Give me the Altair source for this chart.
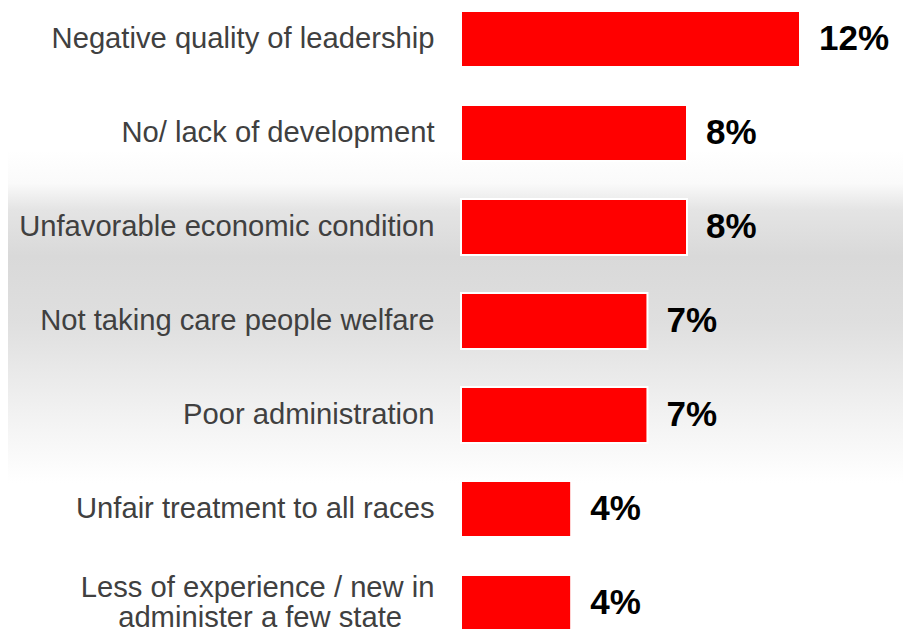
import altair as alt
import pandas as pd

categories = [
    "Negative quality of leadership",
    "No/ lack of development",
    "Unfavorable economic condition",
    "Not taking care people welfare",
    "Poor administration",
    "Unfair treatment to all races",
    "Less of experience / new in\nadminister a few state",
]
values = [12.0, 8.0, 8.0, 6.6, 6.6, 3.9, 3.9]
value_labels = ["12%", "8%", "8%", "7%", "7%", "4%", "4%"]

df = pd.DataFrame({"category": categories, "value": values, "label": value_labels})

FONT = "Liberation Sans"
PAD = "\u00a0" * 4 + "\u200b"

label_expr = (
    "indexof(datum.label, '\\n') >= 0 ? "
    "[split(datum.label, '\\n')[0], split(datum.label, '\\n')[1] + '" + PAD + "'] "
    ": datum.label"
)

y_enc = alt.Y(
    "category:N",
    sort=categories,
    scale=alt.Scale(paddingInner=0.404, paddingOuter=0.032),
    axis=alt.Axis(
        title=None,
        domain=False,
        ticks=False,
        tickSize=0,
        labelPadding=27,
        labelFontSize=29.2,
        labelFont=FONT,
        labelColor="#404040",
        labelLineHeight=30,
        labelLimit=0,
        labelExpr=label_expr,
        labelOffset={
            "condition": {"test": "indexof(datum.value, '\\n') >= 0", "value": -15},
            "value": 0,
        },
        zindex=1,
    ),
)
x_enc = alt.X("value:Q", scale=alt.Scale(domain=[0, 15.646], nice=False), axis=None)

background = alt.Chart(pd.DataFrame({"a": [0]})).mark_rect(
    color=alt.Gradient(
        gradient="linear",
        x1=0, x2=0, y1=0, y2=1,
        stops=[
            alt.GradientStop(offset=0.0, color="#ffffff"),
            alt.GradientStop(offset=0.10, color="#fafafa"),
            alt.GradientStop(offset=0.18, color="#e4e4e4"),
            alt.GradientStop(offset=0.32, color="#d9d9d9"),
            alt.GradientStop(offset=0.52, color="#dfdfdf"),
            alt.GradientStop(offset=0.78, color="#f1f1f1"),
            alt.GradientStop(offset=1.0, color="#ffffff"),
        ],
    )
).encode(
    x=alt.value(-470), x2=alt.value(450), y=alt.value(142), y2=alt.value(475)
)

bars = alt.Chart(df).mark_bar(color="#ff0000", stroke="#ffffff", strokeWidth=2).encode(
    y=y_enc, x=x_enc
)

texts = alt.Chart(df).mark_text(
    align="left", baseline="middle", dx=19, fontSize=35, fontWeight="bold",
    font=FONT, color="#000000"
).encode(y=y_enc, x=x_enc, text="label:N")

chart = alt.layer(background, bars, texts).properties(
    width=442,
    height=626,
    autosize=alt.AutoSizeParams(type="none"),
    padding={"left": 453, "top": 0, "right": 0, "bottom": 0},
).configure_view(stroke=None)

chart.save("out.html", embed_options={"renderer": "svg", "actions": False})
